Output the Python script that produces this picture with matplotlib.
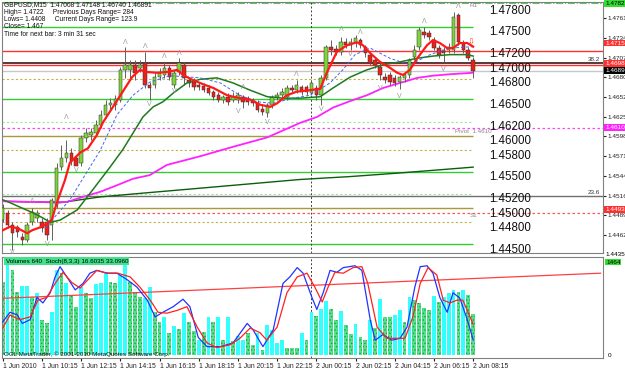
import matplotlib.pyplot as plt
from matplotlib.patches import Rectangle
import matplotlib.transforms as mtransforms

plt.rcParams['font.family'] = ['Liberation Sans', 'DejaVu Sans']
plt.rcParams['hatch.linewidth'] = 0.6

# ---- GBPUSD M15 candles (bar 0 = 1 Jun 08:15) ----
opens = [1.4483, 1.4493, 1.4476, 1.4474, 1.4460, 1.4456, 1.4480, 1.4486, 1.4480, 1.4480,
         1.4476, 1.4504, 1.4556, 1.4569, 1.4576, 1.4569, 1.4562, 1.4596, 1.4600, 1.4603,
         1.4614, 1.4628, 1.4642, 1.4642, 1.4649, 1.4690, 1.4690, 1.4697, 1.4693, 1.4699,
         1.4669, 1.4669, 1.4680, 1.4683, 1.4693, 1.4669, 1.4687, 1.4697, 1.4676, 1.4673,
         1.4669, 1.4668, 1.4665, 1.4660, 1.4655, 1.4649, 1.4653, 1.4649, 1.4649, 1.4653,
         1.4651, 1.4649, 1.4644, 1.4636, 1.4631, 1.4642, 1.4653, 1.4655, 1.4653, 1.4665,
         1.4662, 1.4666, 1.4666, 1.4658, 1.4665, 1.4655, 1.4679, 1.4722, 1.4719, 1.4715,
         1.4728, 1.4724, 1.4727, 1.4731, 1.4722, 1.4711, 1.4704, 1.4694, 1.4680, 1.4683,
         1.4679, 1.4673, 1.4679, 1.4683, 1.4708, 1.4722, 1.4742, 1.4741, 1.4731, 1.4720,
         1.4717, 1.4717, 1.4717, 1.4766, 1.4727, 1.4717, 1.4704]
closes = [1.4500, 1.4476, 1.4465, 1.4467, 1.4456, 1.4476, 1.4494, 1.4493, 1.4472, 1.4463,
          1.4511, 1.4555, 1.4569, 1.4576, 1.4564, 1.4558, 1.4596, 1.4603, 1.4604, 1.4614,
          1.4628, 1.4642, 1.4644, 1.4650, 1.4690, 1.4697, 1.4697, 1.4686, 1.4697, 1.4669,
          1.4665, 1.4680, 1.4686, 1.4693, 1.4680, 1.4686, 1.4699, 1.4679, 1.4672, 1.4666,
          1.4666, 1.4662, 1.4658, 1.4653, 1.4649, 1.4653, 1.4646, 1.4653, 1.4655, 1.4646,
          1.4646, 1.4644, 1.4635, 1.4632, 1.4642, 1.4653, 1.4655, 1.4660, 1.4665, 1.4662,
          1.4669, 1.4660, 1.4660, 1.4672, 1.4655, 1.4679, 1.4722, 1.4717, 1.4715, 1.4728,
          1.4724, 1.4728, 1.4734, 1.4724, 1.4713, 1.4699, 1.4697, 1.4683, 1.4676, 1.4673,
          1.4672, 1.4680, 1.4683, 1.4704, 1.4717, 1.4745, 1.4738, 1.4735, 1.4720, 1.4711,
          1.4713, 1.4722, 1.4763, 1.4728, 1.4717, 1.4706, 1.4689]
highs = [1.4505, 1.4497, 1.4480, 1.4476, 1.4465, 1.4480, 1.4500, 1.4497, 1.4486, 1.4486,
         1.4514, 1.4562, 1.4587, 1.4593, 1.4582, 1.4573, 1.4600, 1.4610, 1.4610, 1.4621,
         1.4635, 1.4649, 1.4651, 1.4655, 1.4694, 1.4722, 1.4704, 1.4704, 1.4704, 1.4715,
         1.4673, 1.4687, 1.4693, 1.4701, 1.4697, 1.4690, 1.4706, 1.4701, 1.4680, 1.4679,
         1.4673, 1.4672, 1.4669, 1.4662, 1.4660, 1.4655, 1.4658, 1.4660, 1.4660, 1.4655,
         1.4654, 1.4651, 1.4649, 1.4642, 1.4644, 1.4655, 1.4660, 1.4665, 1.4669, 1.4669,
         1.4676, 1.4669, 1.4669, 1.4676, 1.4669, 1.4683, 1.4724, 1.4731, 1.4724, 1.4735,
         1.4734, 1.4734, 1.4738, 1.4734, 1.4724, 1.4715, 1.4708, 1.4699, 1.4686, 1.4687,
         1.4683, 1.4683, 1.4687, 1.4706, 1.4724, 1.4749, 1.4749, 1.4745, 1.4735, 1.4724,
         1.4722, 1.4727, 1.4770, 1.4768, 1.4731, 1.4722, 1.4708]
lows = [1.4480, 1.4472, 1.4442, 1.4460, 1.4449, 1.4453, 1.4476, 1.4480, 1.4467, 1.4456,
        1.4456, 1.4500, 1.4552, 1.4563, 1.4559, 1.4559, 1.4558, 1.4591, 1.4593, 1.4600,
        1.4610, 1.4624, 1.4635, 1.4635, 1.4646, 1.4679, 1.4676, 1.4676, 1.4687, 1.4665,
        1.4649, 1.4665, 1.4676, 1.4679, 1.4676, 1.4665, 1.4683, 1.4669, 1.4666, 1.4662,
        1.4662, 1.4660, 1.4655, 1.4649, 1.4646, 1.4644, 1.4642, 1.4646, 1.4644, 1.4638,
        1.4642, 1.4640, 1.4632, 1.4628, 1.4625, 1.4638, 1.4649, 1.4651, 1.4649, 1.4658,
        1.4658, 1.4655, 1.4655, 1.4655, 1.4649, 1.4642, 1.4676, 1.4711, 1.4711, 1.4711,
        1.4720, 1.4717, 1.4722, 1.4720, 1.4708, 1.4697, 1.4693, 1.4676, 1.4672, 1.4669,
        1.4668, 1.4664, 1.4673, 1.4679, 1.4704, 1.4717, 1.4734, 1.4731, 1.4717, 1.4706,
        1.4701, 1.4713, 1.4713, 1.4724, 1.4713, 1.4704, 1.4679]

# moving averages (bar index, price)
red_x = [0, 1.5, 3, 5, 6, 8, 10, 11, 12.7, 13.7, 15.8, 17.4, 19.2, 20.5, 22.5, 24.5, 26.4, 28, 29.5, 31.5,
         33.5, 35.6, 36.8, 38.8, 41, 43, 45.8, 48.4, 50.5, 52.5, 54.6, 56, 58, 60, 62.7, 64.8, 66.2, 68.2,
         70.3, 72.3, 73.5, 75, 77, 79, 80.5, 81.7, 83.1, 84.6, 86.6, 87.8, 89.2, 90.7, 91.9, 93.3, 94.8, 96]
red_y = [1.4469, 1.4474, 1.4472, 1.4465, 1.4469, 1.4474, 1.4483, 1.4506, 1.4538, 1.4562, 1.4576, 1.4582,
         1.4600, 1.4618, 1.4639, 1.4660, 1.4680, 1.4690, 1.4687, 1.4686, 1.4687, 1.4690, 1.4683, 1.4676,
         1.4670, 1.4665, 1.4655, 1.4651, 1.4649, 1.4642, 1.4639, 1.4644, 1.4655, 1.4660, 1.4662, 1.4664,
         1.4687, 1.4715, 1.4724, 1.4728, 1.4724, 1.4713, 1.4701, 1.4693, 1.4686, 1.4683, 1.4690, 1.4706,
         1.4724, 1.4731, 1.4727, 1.4720, 1.4720, 1.4727, 1.4727, 1.4722]
green_x = [0, 1.5, 3.5, 6.2, 8.2, 9.7, 11.7, 15.2, 18.4, 21.9, 24.5, 26.6, 28.6, 30.7, 32.7, 34.8, 37.6,
           40.3, 43.7, 47, 50.5, 54, 57.2, 60.7, 64.8, 67.4, 70.9, 74.3, 77.6, 81.1, 84.6, 87.8, 91.3, 94.8, 96]
green_y = [1.4511, 1.4507, 1.4501, 1.4493, 1.4486, 1.4480, 1.4483, 1.4497, 1.4525, 1.4556, 1.4580, 1.4603,
           1.4625, 1.4639, 1.4646, 1.4658, 1.4672, 1.4677, 1.4679, 1.4672, 1.4662, 1.4653, 1.4651, 1.4651,
           1.4653, 1.4665, 1.4680, 1.4690, 1.4697, 1.4701, 1.4706, 1.4709, 1.4711, 1.4711, 1.4709]
mag_x = [0, 6.2, 13.1, 16.4, 19.9, 23.3, 26.6, 30, 33.5, 40.3, 47, 54, 60.7, 64.1, 67.4, 70.9, 74.3,
         77.6, 81.1, 84.6, 87.8, 91.3, 96]
mag_y = [1.4509, 1.4508, 1.4508, 1.4515, 1.4522, 1.4531, 1.4540, 1.4545, 1.4559, 1.4571, 1.4584, 1.4597,
         1.4617, 1.4625, 1.4638, 1.4647, 1.4655, 1.4665, 1.4672, 1.4679, 1.4682, 1.4684, 1.4686]
long_x = [0, 11.7, 19.9, 30, 40.3, 50.5, 60.7, 70.9, 81.1, 96]
long_y = [1.4509, 1.4507, 1.4515, 1.4521, 1.4527, 1.4533, 1.4539, 1.4543, 1.4548, 1.4556]
blue_x = [8.6, 13.7, 19.9, 23.3, 26.6, 30, 34.1, 40.3, 44.4, 48.4, 51.9, 55.2, 59.2, 62.7, 66.8, 69.4,
          71.9, 75, 79, 83.1, 87.2, 91.3, 96]
blue_y = [1.4472, 1.4511, 1.4579, 1.4628, 1.4655, 1.4673, 1.4682, 1.4679, 1.4672, 1.4655, 1.4646, 1.4644,
          1.4651, 1.4655, 1.4672, 1.4690, 1.4711, 1.4720, 1.4706, 1.4697, 1.4711, 1.4720, 1.4722]

# fractals
up_x = [6, 13, 25, 29, 33, 36, 49, 60, 69, 73, 86, 93]
up_y = [1.4508, 1.4624, 1.4728, 1.4722, 1.4708, 1.4713, 1.4666, 1.4683, 1.4745, 1.4742, 1.4756, 1.4777]
dn_x = [2, 9, 15, 30, 35, 48, 54, 65, 71, 77, 81, 90]
dn_y = [1.4438, 1.4449, 1.4552, 1.4642, 1.4660, 1.4632, 1.4618, 1.4636, 1.4711, 1.4664, 1.4653, 1.4690]

# horizontal levels
zone_levels = [1.4749, 1.4677, 1.4650, 1.4618, 1.4599, 1.4580, 1.4549, 1.4519, 1.4500, 1.4480, 1.4450]
zone_kinds = ['g', 'od', 'g', 'ld', 'o', 'od', 'g', 'ld', 'o', 'od', 'g']
big_levels = [1.478, 1.475, 1.472, 1.470, 1.468, 1.465, 1.462, 1.460, 1.458, 1.455, 1.452, 1.450, 1.448, 1.445]
r1_level = 1.4782
red_level = 1.47155
fib382 = 1.46995
fib_red = 1.46965
bid = 1.46891
pivot = 1.4610
fib236 = 1.4516
s1_level = 1.44932
axis_ticks = [1.47615, 1.47345, 1.47070, 1.46800, 1.46525, 1.46255, 1.45985, 1.45710, 1.45440,
              1.45165, 1.44895, 1.44625]

# volumes + stochastic
volumes = [1149, 1417, 1338, 992, 1086, 1086, 913, 976, 551, 504,
           677, 1338, 1291, 1133, 944, 756, 1070, 976, 897, 1118,
           1133, 1306, 1149, 1133, 1259, 1432, 1149, 992, 913, 897,
           1070, 677, 519, 598, 346, 456, 409, 661, 519, 378,
           236, 362, 598, 519, 598, 236, 598, 220, 299, 236,
           346, 157, 346, 79, 472, 394, 189, 236, 110, 110,
           110, 346, 236, 677, 614, 724, 850, 724, 551, 693,
           472, 331, 488, 283, 236, 551, 425, 881, 598, 598,
           630, 708, 519, 913, 866, 818, 740, 708, 929, 834,
           913, 976, 1023, 992, 1023, 944, 640]
vol_kind = list('gcggccgcgg' 'ccgcggcggc' 'ccggccgggc' 'cggcgcgcgg' 'cgcgcgcgcc'
                'ggcgccccgg' 'gcgcgccggc' 'ggcggcgcgg' 'ccgcggggcg' 'cccgcgg')
stoch_x = [0, 1.5, 3, 4, 5.6, 7, 8.2, 9.7, 10.7, 11.7, 13.1, 14.8, 16.4, 17.8, 19.2, 21.3, 23.3, 25.4,
           27.4, 29.5, 31.1, 32.7, 34.8, 36.8, 38.2, 39.9, 41.7, 44.4, 47, 49.9, 51.1, 53.1, 55.2, 57.2,
           58.6, 60.1, 61.3, 63.1, 64.1, 65.4, 66.8, 68.2, 69.5, 71.9, 73.3, 75, 76, 77.6, 79.4, 81.1,
           82.5, 84.1, 85.2, 86.6, 87.8, 89.2, 90.7, 91.9, 93.3, 94.8, 96]
stoch_main = [35.5, 46, 43, 34, 38, 62, 56, 67, 84, 95, 84, 70, 77, 88, 91, 88, 88, 81, 73, 59,
              41, 46, 52, 60, 52, 19, 9, 9, 13, 34, 27, 9, 27, 77, 84, 94, 88, 62, 49, 67,
              91, 89, 94, 96, 91, 38, 16, 22, 16, 18, 30, 73, 95, 96, 88, 62, 46, 67, 61, 38, 16.6]
signal_x = [0, 1.5, 3.5, 5.6, 7.2, 9, 10.7, 12.3, 14.1, 15.8, 17.4, 19.2, 21.3, 23.5, 26, 28, 30.1, 31.7,
            33.5, 35.6, 37.6, 39.7, 41.7, 43.7, 46.4, 48.4, 50.5, 52.5, 53.9, 56, 58, 60.1, 62.1, 63.7,
            65.2, 66.4, 67.8, 69.5, 71.5, 73.3, 74.5, 76.4, 78.4, 80.5, 82.1, 83.7, 85.2, 86.8, 88.6,
            89.9, 91.3, 92.7, 93.9, 96]
stoch_signal = [29, 43, 38, 41, 59, 62, 77, 89, 78, 72, 81, 91, 88, 88, 84, 73, 59, 46, 45, 48,
                52, 30, 13, 8, 11, 18, 29, 24, 16, 30, 67, 84, 88, 73, 57, 73, 89, 88, 94, 95,
                77, 30, 18, 18, 18, 41, 77, 94, 86, 59, 56, 59, 59, 33.1]
trend_x = [0, 122]
trend_y = [61, 88]

time_labels = ['1 Jun 2010', '1 Jun 10:15', '1 Jun 12:15', '1 Jun 14:15', '1 Jun 16:15', '1 Jun 18:15',
               '1 Jun 20:15', '1 Jun 22:15', '2 Jun 00:15', '2 Jun 02:15', '2 Jun 04:15', '2 Jun 06:15',
               '2 Jun 08:15']
day_break = 63

fig = plt.figure(figsize=(6.25, 3.7), dpi=100)
ax = fig.add_axes([0.0032, 0.3162, 0.9616, 0.6784])
ax2 = fig.add_axes([0.0032, 0.0324, 0.9616, 0.273])
xmin, xmax = -0.14, 122.5
n = len(opens)

# ---- main chart ----
ax.set_xlim(xmin, xmax)
ax.set_ylim(1.44377, 1.47835)

styles = {'g': dict(color='#33cc33', lw=1.0, ls='-'),
          'o': dict(color='#a89a3a', lw=1.0, ls='-'),
          'od': dict(color='#c2b24a', lw=0.8, ls=(0, (2, 2))),
          'ld': dict(color='#9fe59f', lw=0.8, ls=(0, (2, 2)))}
for lv, k in zip(zone_levels, zone_kinds):
    ax.hlines(lv, xmin, n - 1, zorder=1, **styles[k])

ax.axhline(r1_level, color='#55cc55', lw=0.8, ls='-.', zorder=1)
ax.axhline(red_level, color='#ff3030', lw=1.0, zorder=1)
ax.axhline(fib382, color='#4a2a2a', lw=1.3, zorder=1)
ax.axhline(fib_red, color='#ff3030', lw=1.0, zorder=1)
ax.axhline(bid, color='#c8c8c8', lw=1.0, zorder=1)
ax.axhline(pivot, color='#ff44ff', lw=0.9, ls=(0, (2, 2)), zorder=1)
ax.axhline(fib236, color='#707070', lw=1.0, zorder=1)
ax.axhline(s1_level, color='#ff5555', lw=0.9, ls=(0, (2, 2)), zorder=1)
ax.axvline(day_break, color='#404040', lw=0.7, ls=(0, (2, 2)), zorder=1)

for v in big_levels:
    ax.text(99.3, v, f'{v:.5f}', fontsize=8.3, va='top', ha='left', color='#111111', zorder=2)

ax.plot(long_x, long_y, color='#0b5e0b', lw=1.0, zorder=3)
ax.plot(mag_x, mag_y, color='#ff22ff', lw=1.3, zorder=3)

for i in range(n):
    o, h, l, c = opens[i], highs[i], lows[i], closes[i]
    up = c >= o
    ax.vlines(i, l, h, color='#606060', lw=0.7, zorder=4)
    ax.add_patch(Rectangle((i - 0.36, min(o, c)), 0.72, max(abs(c - o), 0.00004),
                           facecolor='#7ed43a' if up else '#e8221b', edgecolor='#303030',
                           lw=0.35, zorder=5))

ax.plot(green_x, green_y, color='#1d7a1d', lw=1.1, zorder=6)
ax.plot(blue_x, blue_y, color='#4466ee', lw=0.7, ls=(0, (3, 2)), zorder=6)
ax.plot(red_x, red_y, color='#ff1a1a', lw=1.6, zorder=6)

for x, y in zip(up_x, up_y):
    ax.text(x, y, 'Λ', fontsize=5, ha='center', va='center', color='#9a9a9a', zorder=7)
for x, y in zip(dn_x, dn_y):
    ax.text(x, y, 'V', fontsize=5, ha='center', va='center', color='#9a9a9a', zorder=7)
ax.text(95.5, 1.4728, '⇩', fontsize=6, ha='center', va='center', color='#ff3030', zorder=7,
        family='DejaVu Sans')

ax.text(92.2, pivot - 0.00012, 'Pivot  1.4610', fontsize=4.5, color='#888888', va='top')
ax.text(95.2, s1_level - 0.00008, 'S1', fontsize=4.5, color='#888888', va='top')
ax.text(95.2, 1.4778, 'R1', fontsize=4.5, color='#888888', va='center')
ax.text(121.8, fib382 + 0.0001, '38.2', fontsize=4.5, color='#333333', ha='right', va='bottom')
ax.text(121.8, fib236 + 0.0001, '23.6', fontsize=4.5, color='#333333', ha='right', va='bottom')

ax.set_xticks([])
ax.yaxis.tick_right()
ax.set_yticks(axis_ticks)
ax.set_yticklabels([f'{v:.5f}' for v in axis_ticks])
ax.tick_params(axis='y', labelsize=4.6, length=2, pad=1, colors='#222222')
for s in ax.spines.values():
    s.set_color('#808080')
    s.set_linewidth(0.8)
ax.spines['bottom'].set_linestyle((0, (2, 1)))

tr = mtransforms.blended_transform_factory(ax.transAxes, ax.transData)
ax.text(1.004, 1.44350, '1.44350', transform=tr, fontsize=4.6, va='center', clip_on=False)
boxes = [(1.4782, '1.47825', '#33dd33', 'black'), (1.4727, '1.47155', '#ff3030', 'white'),
         (1.4699, '1.46985', '#ff3030', 'white'), (bid, '1.46891', 'black', 'white'),
         (pivot, '1.46101', '#ff22ff', 'white'), (1.4498, '1.44932', '#ff3030', 'white')]
for y, t, fc, tc in boxes:
    ax.text(1.004, y, t, transform=tr, fontsize=4.6, va='center', color=tc, clip_on=False,
            bbox=dict(boxstyle='square,pad=0.15', fc=fc, ec='none'))

info = ['GBPUSD,M15  1.47068 1.47148 1.46740 1.46891',
        'High= 1.4722     Previous Days Range= 284',
        'Lows= 1.4408     Current Days Range= 123.9',
        'Close= 1.467',
        'Time for next bar: 3 min 31 sec']
for k, t in enumerate(info):
    fig.text(4 / 625, 1 - (5 + 7.3 * k) / 370, t, fontsize=4.8, va='center', color='#111111')

# ---- volumes + stochastic ----
ax2.set_xlim(xmin, xmax)
ax2.set_ylim(-47, 1543)
for i in range(n):
    if vol_kind[i] == 'c':
        ax2.bar(i, volumes[i], width=0.78, color='#33ffff', lw=0, zorder=2)
    else:
        ax2.bar(i, volumes[i], width=0.78, facecolor='#55e08a', edgecolor='#17a04e',
                hatch='.....', lw=0, zorder=2)
ax2.axvline(day_break, color='#404040', lw=0.7, ls=(0, (2, 2)), zorder=1)
ax3 = ax2.twinx()
ax3.set_xlim(xmin, xmax)
ax3.set_ylim(-3.2, 105.4)
ax3.plot(trend_x, trend_y, color='#ff4040', lw=0.9, zorder=3)
ax3.plot(stoch_x, stoch_main, color='#2233ff', lw=0.9, zorder=4)
ax3.plot(signal_x, stoch_signal, color='#ff2020', lw=0.9, zorder=4)
ax3.set_yticks([])
for s in ax3.spines.values():
    s.set_visible(False)

ax2.set_yticks([])
ax2.set_xticks(range(0, n, 8))
ax2.set_xticklabels(time_labels, ha='left')
ax2.tick_params(axis='x', labelsize=4.9, length=2, pad=1.5, colors='#222222')
for s in ax2.spines.values():
    s.set_color('#808080')
    s.set_linewidth(0.8)
ax2.spines['top'].set_linestyle((0, (2, 1)))

ax2.text(0.006, 0.985, 'Volumes 640  Stoch(8,3,3) 16.6035 33.0960', transform=ax2.transAxes,
         fontsize=4.5, va='top', ha='left', zorder=6,
         bbox=dict(boxstyle='square,pad=0.2', fc='#44e08a', ec='none'))
ax2.text(0.004, 0.04, 'OGL MetaTrader, © 2001-2010 MetaQuotes Software Corp.', transform=ax2.transAxes,
         fontsize=4.5, va='center', ha='left', color='#111111', zorder=6)
tr2 = mtransforms.blended_transform_factory(ax2.transAxes, ax2.transData)
ax2.text(1.005, 1464, '1464', transform=tr2, fontsize=4.6, va='center', clip_on=False,
         bbox=dict(boxstyle='square,pad=0.15', fc='#33dd33', ec='none'))
ax2.text(1.008, 0, '0', transform=tr2, fontsize=4.6, va='center', clip_on=False)

fig.savefig('out.png', dpi=100)
